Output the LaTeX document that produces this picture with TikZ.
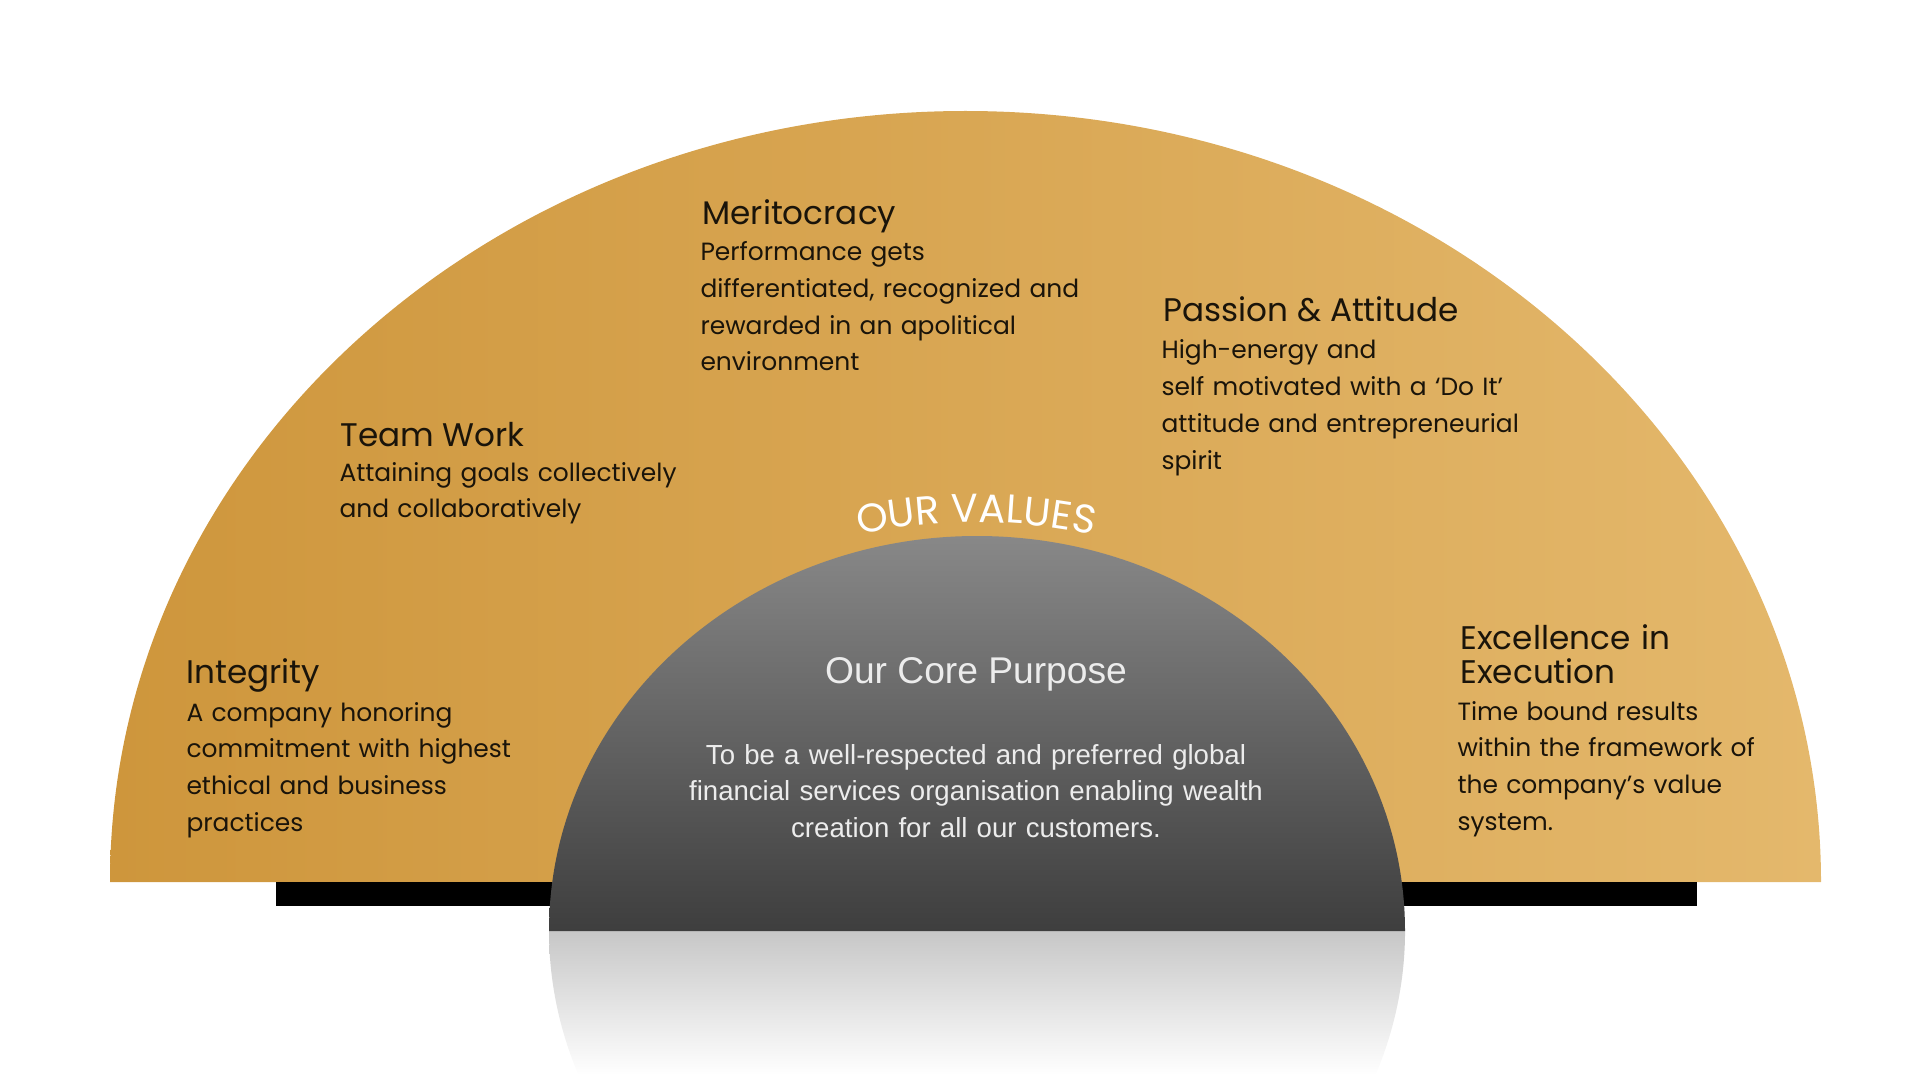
\documentclass[tikz,border=0pt]{standalone}
\usepackage{fontspec}
\setmainfont{Poppins}
\newfontfamily\purposefont{Liberation Sans}
\usetikzlibrary{decorations.text}

\definecolor{goldleft}{RGB}{206,150,60}
\definecolor{goldright}{RGB}{228,184,108}
\definecolor{domelight}{RGB}{136,136,136}
\definecolor{domedark}{RGB}{62,62,62}
\definecolor{valtext}{RGB}{26,20,10}
\definecolor{purposetext}{RGB}{236,236,236}

\tikzset{every picture/.style={line width=0.75pt}}

\begin{document}
\begin{tikzpicture}[x=0.75pt,y=0.75pt,yscale=-1,xscale=1,
    valtitle/.style={anchor=base west, inner sep=0pt, text=valtext, font=\fontsize{24.5}{28}\selectfont},
    valbody/.style={anchor=base west, inner sep=0pt, text=valtext, align=left, text width=360pt, font=\fontsize{18.7}{27.5}\selectfont},
    purposetitle/.style={anchor=base, inner sep=0pt, text=purposetext, font=\purposefont\fontsize{27.9}{30}\selectfont},
    purposebody/.style={anchor=base, inner sep=0pt, text=purposetext, align=center, text width=600pt, font=\purposefont\fontsize{20.7}{27.5}\selectfont}]
        \useasboundingbox (0,0) rectangle (1920,1080);

        %Shape: Half Ellipse [id:gold]
        \shade [left color=goldleft, right color=goldright] (110,882) arc [start angle=180, end angle=360, x radius=855.5, y radius=771] -- cycle ;
        %Shape: Rectangle [id:bar]
        \fill [black] (276,882) rectangle (1697,906) ;
        %Shape: Reflection [id:mirror]
        \shade [top color=black!22, middle color=black!5, bottom color=white] (549,931) arc [start angle=180, end angle=158.6, x radius=428, y radius=395] -- (1375.5,1075) arc [start angle=21.4, end angle=0, x radius=428, y radius=395] -- cycle ;
        %Shape: Half Ellipse [id:dome]
        \shade [top color=domelight, bottom color=domedark] (549,931) arc [start angle=180, end angle=360, x radius=428, y radius=395] -- cycle ;

        %Curved Text [id:ourvalues]
        \path [decorate, decoration={text along path, text={|\fontsize{30}{30}\selectfont|OUR VALUES}, text align=center, text color=white}] (784.5,556) arc [start angle=250, end angle=290, radius=560] ;

        %Text Nodes
        \node [valtitle] (merit) at (702,225) {Meritocracy};
        \node [valbody] (meritbody) at (700,261) {Performance gets\\differentiated, recognized and\\rewarded in an apolitical\\environment};

        \node [valtitle] (passion) at (1163,322) {Passion \& Attitude};
        \node [valbody] (passionbody) at (1161,359) {High-energy and\\self motivated with a ‘Do It’\\attitude and entrepreneurial\\spirit};

        \node [valtitle] (team) at (340,446) {Team Work};
        \node [valbody] (teambody) at (339,481) {Attaining goals collectively\\and collaboratively};

        \node [valtitle] (integrity) at (186,683) {Integrity};
        \node [valbody] (integritybody) at (186,721) {A company honoring\\commitment with highest\\ethical and business\\practices};

        \node [valtitle, align=left, text width=330pt, font=\fontsize{24.5}{25.5}\selectfont] (excel) at (1460,649) {Excellence in\\Execution};
        \node [valbody] (excelbody) at (1457,720) {Time bound results\\within the framework of\\the company’s value\\system.};

        \node [purposetitle] (purpose) at (976,683) {Our Core Purpose};
        \node [purposebody] (purposebody) at (976,764) {To be a well-respected and preferred global\\financial services organisation enabling wealth\\creation for all our customers.};

\end{tikzpicture}
\end{document}
